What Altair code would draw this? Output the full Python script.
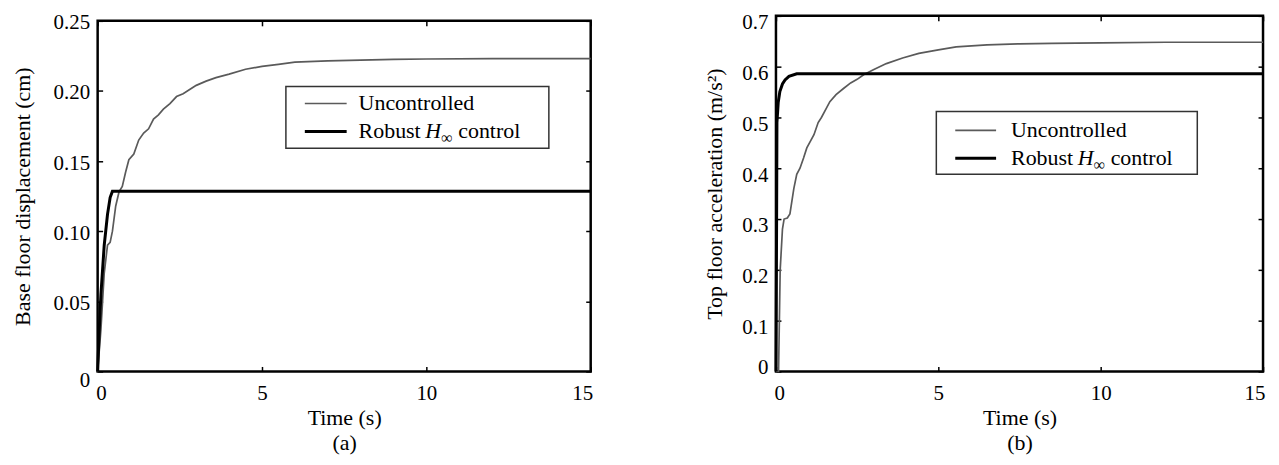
import altair as alt
import pandas as pd

# ---------------- data ----------------
# Panel (a): base floor displacement (cm)
a_unc_t = [0, 0.1, 0.2, 0.3, 0.38, 0.45, 0.55, 0.65, 0.75, 0.85, 0.95, 1.1, 1.25, 1.4,
           1.55, 1.7, 1.85, 2.0, 2.2, 2.4, 2.6, 2.8, 3.0, 3.3, 3.6, 4.0, 4.5, 5.0, 5.5,
           6.0, 7.0, 8.0, 9.0, 10, 12, 15]
a_unc_v = [0, 0.03, 0.07, 0.09, 0.092, 0.1, 0.118, 0.128, 0.132, 0.142, 0.151, 0.155,
           0.165, 0.170, 0.173, 0.180, 0.183, 0.187, 0.191, 0.196, 0.198, 0.201, 0.204,
           0.207, 0.2095, 0.212, 0.2155, 0.2175, 0.219, 0.2205, 0.2215, 0.222, 0.2225,
           0.2228, 0.223, 0.223]
a_rob_t = [0, 0.05, 0.1, 0.2, 0.3, 0.38, 0.45, 0.6, 15]
a_rob_v = [0, 0.03, 0.055, 0.09, 0.112, 0.124, 0.1285, 0.1285, 0.1285]

# Panel (b): top floor acceleration (m/s^2)
b_unc_t = [0, 0.08, 0.13, 0.2, 0.25, 0.35, 0.43, 0.55, 0.64, 0.74, 0.85, 0.95, 1.05,
           1.17, 1.3, 1.4, 1.55, 1.66, 1.85, 2.08, 2.3, 2.5, 2.7, 3.0, 3.4, 3.9, 4.4,
           5.0, 5.55, 6.5, 7.5, 8.5, 10, 12, 15]
b_unc_v = [0, 0, 0.2, 0.28, 0.30, 0.302, 0.31, 0.36, 0.388, 0.40, 0.42, 0.44, 0.452,
           0.466, 0.49, 0.50, 0.518, 0.531, 0.545, 0.557, 0.568, 0.575, 0.584, 0.594,
           0.606, 0.617, 0.626, 0.633, 0.639, 0.643, 0.645, 0.646, 0.647, 0.648, 0.648]
b_rob_t = [0, 0.02, 0.03, 0.07, 0.12, 0.2, 0.28, 0.4, 0.64, 15]
b_rob_v = [0, 0.3, 0.49, 0.53, 0.551, 0.566, 0.574, 0.581, 0.586, 0.586]

x_ticks = [0, 5, 10, 15]
a_y_ticks = [0, 0.05, 0.10, 0.15, 0.20, 0.25]
b_y_ticks = [0, 0.1, 0.2, 0.3, 0.4, 0.5, 0.6, 0.7]

legend_labels = ["Uncontrolled", "Robust", "H", "\u221e", "control"]

FONT = "Liberation Serif"
GRAY = "#5a5a5a"
LBL = 21
TTL = 22
LEG = 22

one = pd.DataFrame({"k": [0]})


def panel(unc_t, unc_v, rob_t, rob_v, ymax, yticks, yfmt, ytitle, xtitle,
          w, h, box, lx, ly1, ly2, tx, off_zero, off_rest, ytitle_pad):
    unc = pd.DataFrame({"t": unc_t, "v": unc_v})
    rob = pd.DataFrame({"t": rob_t, "v": rob_v})
    xs = alt.Scale(domain=[0, 15], nice=False, zero=False)
    ys = alt.Scale(domain=[0, ymax], nice=False)

    x_main = alt.Axis(orient="bottom", values=x_ticks, offset=-5, tickSize=5,
                      tickColor="black", tickWidth=1.5, domain=False, grid=False,
                      labelFlush=True, labelFlushOffset=2,
                      labelPadding=11, labelFont=FONT, labelFontSize=LBL,
                      labelColor="black", title=xtitle, titleFont=FONT,
                      titleFontSize=TTL, titleFontWeight="normal", titleColor="black",
                      titlePadding=4, titleLineHeight=25)
    y_main = alt.Axis(orient="left", values=yticks, offset=-5, tickSize=5,
                      tickColor="black", tickWidth=1.5, domain=False, grid=False,
                      labelPadding=8, labelFont=FONT, labelFontSize=LBL,
                      labelColor="black",
                      labelOffset=alt.condition("datum.value == 0",
                                                alt.value(off_zero), alt.value(off_rest)),
                      labelExpr="datum.value == 0 ? '0' : format(datum.value, '%s')" % yfmt,
                      title=ytitle, titleFont=FONT, titleFontSize=TTL,
                      titleFontWeight="normal", titleColor="black",
                      titlePadding=ytitle_pad)
    x_top = alt.Axis(orient="top", values=x_ticks, offset=-5, tickSize=5,
                     tickColor="black", tickWidth=1.5, domain=False, grid=False,
                     labels=False, title=None)
    y_right = alt.Axis(orient="right", values=yticks, offset=-5, tickSize=5,
                       tickColor="black", tickWidth=1.5, domain=False, grid=False,
                       labels=False, title=None)

    l_unc = alt.Chart(unc).mark_line(color=GRAY, strokeWidth=1.7).encode(
        x=alt.X("t:Q", scale=xs, axis=x_main),
        y=alt.Y("v:Q", scale=ys, axis=y_main),
    )
    l_rob = alt.Chart(rob).mark_line(color="black", strokeWidth=3).encode(
        x=alt.X("t:Q", scale=xs, axis=x_top),
        y=alt.Y("v:Q", scale=ys, axis=y_right),
    )

    bx = alt.Chart(one).mark_rect(fill="white", stroke="#333333", strokeWidth=1.5).encode(
        x=alt.value(box[0]), x2=alt.value(box[1]), y=alt.value(box[2]), y2=alt.value(box[3]))
    s1 = alt.Chart(one).mark_rule(color=GRAY, strokeWidth=1.7).encode(
        x=alt.value(lx[0]), x2=alt.value(lx[1]), y=alt.value(ly1))
    s2 = alt.Chart(one).mark_rule(color="black", strokeWidth=3).encode(
        x=alt.value(lx[0]), x2=alt.value(lx[1]), y=alt.value(ly2))

    def txt(s, x, y, size=LEG, style="normal"):
        return alt.Chart(one).mark_text(align="left", baseline="middle", font=FONT,
                                        fontSize=size, fontStyle=style,
                                        color="black").encode(
            x=alt.value(x), y=alt.value(y), text=alt.value(s))

    t1 = txt(legend_labels[0], tx, ly1)
    t2 = txt(legend_labels[1], tx, ly2)
    t3 = txt(legend_labels[2], tx + 67, ly2, style="italic")
    t4 = txt(legend_labels[3], tx + 83, ly2 + 7, size=16)
    t5 = txt(legend_labels[4], tx + 100, ly2)

    return alt.layer(l_unc, l_rob, bx, s1, s2, t1, t2, t3, t4, t5).resolve_axis(
        x="independent", y="independent").properties(width=w, height=h)


def spacer(hgt):
    return alt.Chart(one).mark_rule(strokeOpacity=0, strokeWidth=0.1).encode(
        x=alt.value(0), y=alt.value(0), y2=alt.value(hgt)
    ).properties(width=1, height=hgt,
                 view=alt.ViewBackground(stroke="transparent", strokeWidth=0))


left = panel(a_unc_t, a_unc_v, a_rob_t, a_rob_v, 0.25, a_y_ticks, ".2f",
             "Base floor displacement (cm)", ["Time (s)", "(a)"], 495, 352,
             (189, 453, 66, 128), (208, 250), 83, 111, 262, 9, 2, 19)
right = panel(b_unc_t, b_unc_v, b_rob_t, b_rob_v, 0.7, b_y_ticks, ".1f",
              "Top floor acceleration (m/s\u00b2)", ["Time (s)", "(b)"], 489, 357,
              (161, 423, 96, 159), (180, 221), 115, 143, 236, -4, 7, 15)

left_col = alt.vconcat(spacer(1), left, spacing=0)
right_col = alt.vconcat(spacer(1), right, spacing=0)

chart = alt.hconcat(left_col, right_col, spacing=104).properties(
    padding={"left": 2, "top": 0, "right": 0, "bottom": 0},
    background="white",
).configure_view(stroke="black", strokeWidth=2.5)

chart.save("out.html", embed_options={"renderer": "svg", "actions": False})
